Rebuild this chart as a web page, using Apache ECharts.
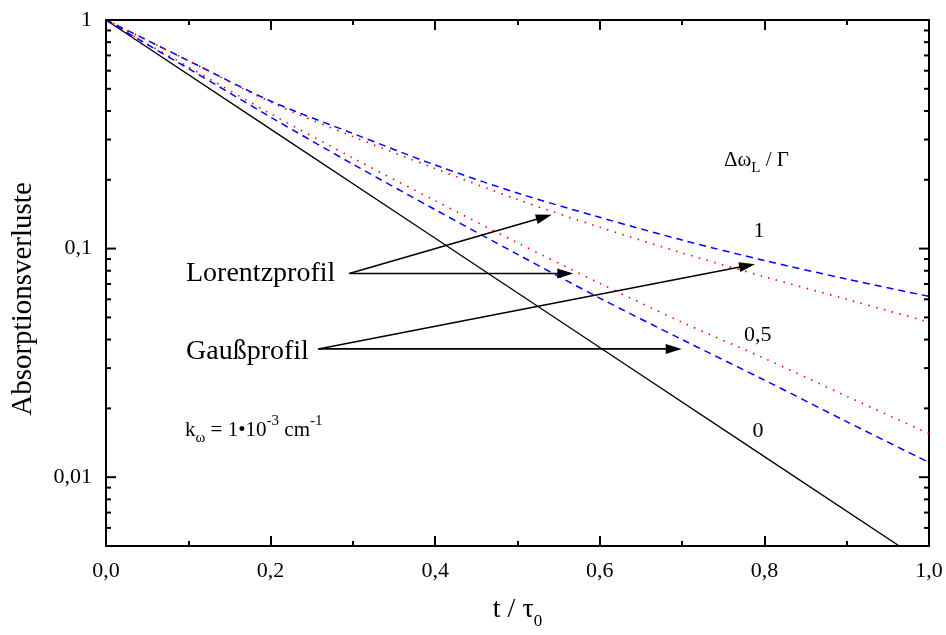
<!DOCTYPE html>
<html><head><meta charset="utf-8">
<script src="https://cdn.jsdelivr.net/npm/echarts@6/dist/echarts.min.js"></script>
<style>html,body{margin:0;padding:0;background:#fff}#c{width:946px;height:635px}</style>
</head><body><div id="c"></div>
<script>
// ---- data ----
const tValues = [0, 0.05, 0.1, 0.2, 0.3, 0.4, 0.5, 0.6, 0.7, 0.8, 0.9, 1.0];
const gaussRatio1 = [1, 0.816, 0.664, 0.442, 0.319, 0.232, 0.175, 0.137, 0.109, 0.0887, 0.0736, 0.0618];   // blue dashed, upper
const lorentzRatio1 = [1, 0.816, 0.664, 0.437, 0.309, 0.224, 0.164, 0.124, 0.0957, 0.0753, 0.060, 0.0477]; // red dotted, upper
const lorentzRatio05 = [1, 0.787, 0.624, 0.389, 0.249, 0.162, 0.106, 0.0705, 0.0476, 0.0331, 0.0226, 0.0155]; // red dotted, lower
const gaussRatio05 = [1, 0.782, 0.614, 0.376, 0.234, 0.148, 0.0944, 0.0607, 0.040, 0.0266, 0.0175, 0.0116]; // blue dashed, lower
const tBlack = [0, 0.2, 0.4, 0.6, 0.8, 1.0];
const ratio0 = [1, 0.333, 0.111, 0.0369, 0.0123, 0.0041];

const xTickLabels = ['0,0', '0,2', '0,4', '0,6', '0,8', '1,0'];
const yTickValues = [0.01, 0.1, 1];
const yTickLabels = ['0,01', '0,1', '1'];
const yMinorTicks = [0.006, 0.007, 0.008, 0.009,
  0.02, 0.03, 0.04, 0.05, 0.06, 0.07, 0.08, 0.09,
  0.2, 0.3, 0.4, 0.5, 0.6, 0.7, 0.8, 0.9];

// arrows: [startT, startValue, tipT, tipValue]
const lorentzArrows = [[0.2956, 0.0778, 0.5416, 0.1406], [0.2956, 0.0778, 0.5678, 0.0778]];
const gaussArrows = [[0.258, 0.0364, 0.7886, 0.0855], [0.258, 0.0364, 0.6995, 0.0364]];

// ---- chart ----
const FONT = '"Liberation Serif", "Times New Roman", serif';
const chart = echarts.init(document.getElementById('c'), null, {renderer: 'canvas'});
const pair = (xs, ys) => xs.map((t, i) => [t, ys[i]]);

function yLabel(v) {
  const i = yTickValues.findIndex(t => Math.abs(Math.log10(t) - Math.log10(v)) < 1e-6);
  return i >= 0 ? yTickLabels[i] : '';
}

const tickData = yTickValues.map(v => [0, v, 10]).concat(yMinorTicks.map(v => [0, v, 5]));

const sub = {fontSize: 15, fontFamily: FONT, color: '#000', verticalAlign: 'bottom', lineHeight: 15};
const sup = {fontSize: 15, fontFamily: FONT, color: '#000', verticalAlign: 'top', lineHeight: 15};

function txt(x, y, text, size, align) {
  return {
    type: 'text', x: x, y: y, silent: true, z: 100,
    style: {
      text: text, fill: '#000', fontSize: size, fontFamily: FONT,
      align: align, textAlign: align, verticalAlign: 'middle', textVerticalAlign: 'middle'
    }
  };
}

const option = {
  animation: false,
  backgroundColor: '#fff',
  grid: {left: 106, right: 17, top: 20, bottom: 86},
  xAxis: [{
    type: 'value', min: 0, max: 1, interval: 0.2, position: 'bottom',
    axisLine: {show: true, onZero: false, lineStyle: {color: '#000', width: 2}},
    axisTick: {show: true, inside: true, length: 10, lineStyle: {color: '#000', width: 2}},
    minorTick: {show: true, splitNumber: 2, length: 5, lineStyle: {color: '#000', width: 2}},
    splitLine: {show: false},
    axisLabel: {margin: 14, color: '#000', fontSize: 22, fontFamily: FONT,
      formatter: v => xTickLabels[Math.round(v / 0.2)]},
    name: 't / τ{s|0}', nameLocation: 'middle', nameGap: 44,
    nameTextStyle: {color: '#000', fontSize: 28, fontFamily: FONT, lineHeight: 40,
      rich: {s: {fontSize: 17, fontFamily: FONT, color: '#000', verticalAlign: 'bottom', lineHeight: 17}}}
  }, {
    type: 'value', min: 0, max: 1, interval: 0.2, position: 'top',
    axisLine: {show: true, onZero: false, lineStyle: {color: '#000', width: 2}},
    axisTick: {show: true, inside: true, length: 10, lineStyle: {color: '#000', width: 2}},
    minorTick: {show: true, splitNumber: 2, length: 5, lineStyle: {color: '#000', width: 2}},
    splitLine: {show: false}, axisLabel: {show: false}
  }],
  yAxis: [{
    type: 'log', logBase: 10, min: 0.005, max: 1, position: 'left',
    axisLine: {show: true, onZero: false, lineStyle: {color: '#000', width: 2}},
    axisTick: {show: false}, minorTick: {show: false}, splitLine: {show: false},
    axisLabel: {margin: 14, color: '#000', fontSize: 22, fontFamily: FONT, formatter: yLabel},
    name: 'Absorptionsverluste', nameLocation: 'middle', nameGap: 68,
    nameTextStyle: {color: '#000', fontSize: 29, fontFamily: FONT, padding: [0, 32, 0, 0]}
  }, {
    type: 'log', logBase: 10, min: 0.005, max: 1, position: 'right',
    axisLine: {show: true, onZero: false, lineStyle: {color: '#000', width: 2}},
    axisTick: {show: false}, minorTick: {show: false}, splitLine: {show: false},
    axisLabel: {show: false}
  }],
  series: [
    {
      name: 'ticks', type: 'custom', xAxisIndex: 0, yAxisIndex: 0, silent: true, clip: false, z: 5,
      encode: {x: 0, y: 1},
      data: tickData,
      renderItem: function (params, api) {
        const v = api.value(1), len = api.value(2);
        const pL = api.coord([0, v]), pR = api.coord([1, v]);
        const st = {stroke: '#000', lineWidth: 2};
        return {type: 'group', children: [
          {type: 'line', shape: {x1: pL[0], y1: pL[1], x2: pL[0] + len, y2: pL[1]}, style: st},
          {type: 'line', shape: {x1: pR[0] - len, y1: pR[1], x2: pR[0], y2: pR[1]}, style: st}
        ]};
      }
    },
    {
      name: 'arrows', type: 'custom', xAxisIndex: 0, yAxisIndex: 0, silent: true, clip: false, z: 6,
      encode: {x: [0, 2], y: [1, 3]},
      data: lorentzArrows.concat(gaussArrows),
      renderItem: function (params, api) {
        const p0 = api.coord([api.value(0), api.value(1)]);
        const p1 = api.coord([api.value(2), api.value(3)]);
        const dx = p1[0] - p0[0], dy = p1[1] - p0[1];
        const L = Math.sqrt(dx * dx + dy * dy), ux = dx / L, uy = dy / L;
        const hl = 16, hw = 5;
        const bx = p1[0] - ux * hl, by = p1[1] - uy * hl;
        return {type: 'group', children: [
          {type: 'line', shape: {x1: p0[0], y1: p0[1], x2: bx + ux * 2, y2: by + uy * 2},
            style: {stroke: '#000', lineWidth: 1.6}},
          {type: 'polygon', shape: {points: [[p1[0], p1[1]], [bx - uy * hw, by + ux * hw], [bx + uy * hw, by - ux * hw]]},
            style: {fill: '#000'}}
        ]};
      }
    },
    {
      name: 'Δω_L/Γ = 0', type: 'line', data: pair(tBlack, ratio0), showSymbol: false, symbol: 'none',
      lineStyle: {color: '#000', width: 1.3}, clip: true, z: 3
    },
    {
      name: 'Gaußprofil, Δω_L/Γ = 1', type: 'line', data: pair(tValues, gaussRatio1), symbol: 'none',
      smooth: 0.3, lineStyle: {color: '#0000ff', width: 1.5, type: [7, 5]}, z: 3
    },
    {
      name: 'Lorentzprofil, Δω_L/Γ = 1', type: 'line', data: pair(tValues, lorentzRatio1), symbol: 'none',
      smooth: 0.3, lineStyle: {color: '#ff0000', width: 1.6, type: [1.5, 6.5]}, z: 3
    },
    {
      name: 'Lorentzprofil, Δω_L/Γ = 0,5', type: 'line', data: pair(tValues, lorentzRatio05), symbol: 'none',
      smooth: 0.3, lineStyle: {color: '#ff0000', width: 1.6, type: [1.5, 6.5]}, z: 3
    },
    {
      name: 'Gaußprofil, Δω_L/Γ = 0,5', type: 'line', data: pair(tValues, gaussRatio05), symbol: 'none',
      smooth: 0.3, lineStyle: {color: '#0000ff', width: 1.5, type: [7, 5]}, z: 3
    }
  ],
  graphic: [
    txt(186, 274, 'Lorentzprofil', 28, 'left'),
    txt(186, 352, 'Gaußprofil', 28, 'left'),
    txt(724, 160, 'Δω{sub|L} / Γ', 21, 'left'),
    txt(759, 231, '1', 22, 'center'),
    txt(744, 335, '0,5', 22, 'left'),
    txt(758, 431, '0', 22, 'center'),
    txt(185, 430, 'k{sub|ω} = 1•10{sup|-3} cm{sup|-1}', 21, 'left')
  ]
};

option.graphic.forEach(g => {
  g.style.rich = {sub: sub, sup: sup};
  if (g.style.text.indexOf('{') >= 0) g.style.lineHeight = 32;
});

chart.setOption(option);
</script>
</body></html>
